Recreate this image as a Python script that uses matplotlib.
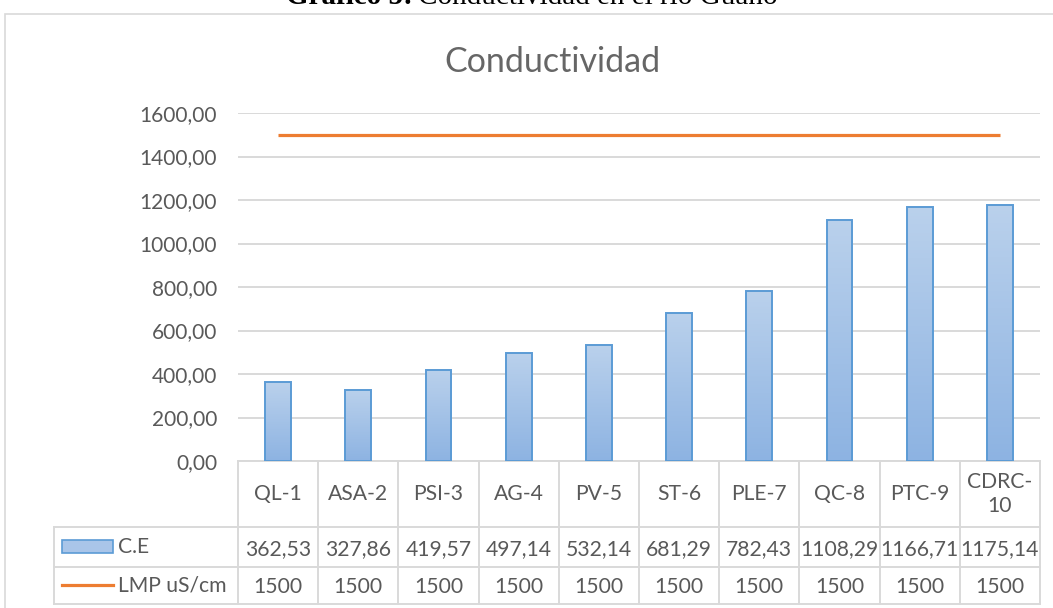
"""
Conductividad en el rio Guano -- bar chart with Excel-style data table.
"""
import numpy as np
import matplotlib
matplotlib.use("Agg")
import matplotlib.pyplot as plt
from matplotlib import transforms
from matplotlib.colors import LinearSegmentedColormap
from matplotlib.patches import Rectangle
from matplotlib.lines import Line2D

# ── data ──
categories = ["QL-1", "ASA-2", "PSI-3", "AG-4", "PV-5", "ST-6", "PLE-7",
              "QC-8", "PTC-9", "CDRC-10"]
ce_values = [362.53, 327.86, 419.57, 497.14, 532.14, 681.29, 782.43,
             1108.29, 1166.71, 1175.14]
lmp_values = [1500, 1500, 1500, 1500, 1500, 1500, 1500, 1500, 1500, 1500]
y_ticks = [0, 200, 400, 600, 800, 1000, 1200, 1400, 1600]
series_names = ["C.E", "LMP uS/cm"]

TXT = "#595959"
GRID = "#d9d9d9"
EDGE = "#5b9bd5"
ORANGE = "#ed7d31"
FONT = "Lato"
FS = 15.2

W, H = 1053, 608
fig = plt.figure(figsize=(W / 100, H / 100), dpi=100)

def fx(px):
    return px / W

def fy(py):
    return 1 - py / H

# outer chart frame (extends beyond the crop on the right / bottom)
fig.add_artist(Rectangle((fx(4.5), fy(640)), fx(1100), (640 - 13.5) / H,
                         transform=fig.transFigure, fill=False,
                         edgecolor=GRID, lw=1.2, clip_on=False))

# caption, cut at the top of the image
fig.text(fx(413), fy(4), "Gráfico 5:", ha="right", va="baseline",
         fontsize=21, fontweight="bold", family="Liberation Serif", color="black")
fig.text(fx(418), fy(4), "Conductividad en el río Guano", ha="left", va="baseline",
         fontsize=21, family="Liberation Serif", color="black")

# chart title
fig.text(fx(552), fy(72), "Conductividad", ha="center", va="baseline",
         fontsize=24.5, family=FONT, color="#666666")

# ── plot area ──
ax = fig.add_axes([fx(238), fy(461), (1040 - 238) / W, (461 - 113) / H])
x = np.arange(len(categories))

bars = ax.bar(x, ce_values, width=0.32, facecolor="none", edgecolor=EDGE,
              lw=1.4, zorder=3)
cmap = LinearSegmentedColormap.from_list("bar", ["#8db3e2", "#bad1ec"])
grad = np.linspace(0, 1, 256).reshape(-1, 1)
for b in bars:
    im = ax.imshow(grad, extent=[b.get_x(), b.get_x() + b.get_width(), 0, b.get_height()],
                   origin="lower", aspect="auto", cmap=cmap, zorder=2)
    im.set_clip_path(b)

ax.plot(x, lmp_values, color=ORANGE, lw=2.3, zorder=4, solid_capstyle="butt")

ax.set_xlim(-0.5, len(categories) - 0.5)
ax.set_ylim(0, 1600)
ax.set_yticks(y_ticks)
ax.set_yticklabels([f"{v:.2f}".replace(".", ",") for v in y_ticks],
                   family=FONT, fontsize=15, color=TXT)
ax.set_xticks([])
ax.tick_params(axis="y", length=0, pad=15)
ax.yaxis.grid(True, color=GRID, lw=1.4, zorder=0)
ax.set_axisbelow(True)
for s in ax.spines.values():
    s.set_visible(False)

# ── data table under the axis ──
trans = transforms.blended_transform_factory(ax.transData, ax.transAxes)
ah = 461 - 113
r0, r1, r2, r3 = 0, -66 / ah, -106 / ah, -143 / ah
x_left = ax.transData.inverted().transform(fig.transFigure.transform((fx(54), 0)))[0]
x_right = len(categories) - 0.5

def tline(xs, ys):
    ax.add_line(Line2D(xs, ys, transform=trans, color=GRID, lw=1.4,
                       clip_on=False, zorder=1))

tline([-0.5, x_right], [r0, r0])
for yy in (r1, r2, r3):
    tline([x_left, x_right], [yy, yy])
for i in range(len(categories) + 1):
    tline([i - 0.5, i - 0.5], [r0, r3])
tline([x_left, x_left], [r1, r3])

for i, c in enumerate(categories):
    lab = c if len(c) < 7 else c.replace("-", "-\n")
    ax.text(i, (r0 + r1) / 2, lab, transform=trans, ha="center", va="center",
            family=FONT, fontsize=FS, color=TXT, linespacing=1.25)
    ax.text(i, (r1 + r2) / 2 - 0.005, f"{ce_values[i]:.2f}".replace(".", ","),
            transform=trans, ha="center", va="center", family=FONT,
            fontsize=FS, color=TXT)
    ax.text(i, (r2 + r3) / 2 - 0.005, f"{lmp_values[i]}", transform=trans,
            ha="center", va="center", family=FONT, fontsize=FS, color=TXT)

# legend keys in the table's first column
fig.add_artist(Rectangle((fx(62), fy(553)), (113 - 62) / W, 13 / H,
                         transform=fig.transFigure, facecolor="#a9c5e9",
                         edgecolor=EDGE, lw=1.2))
fig.add_artist(Line2D([fx(62), fx(113)], [fy(585), fy(585)],
                      transform=fig.transFigure, color=ORANGE, lw=2.3))
fig.text(fx(118), fy(547), series_names[0], ha="left", va="center",
         family=FONT, fontsize=FS, color=TXT)
fig.text(fx(118), fy(585), series_names[1], ha="left", va="center",
         family=FONT, fontsize=FS, color=TXT)

fig.savefig("out.png", dpi=100)
